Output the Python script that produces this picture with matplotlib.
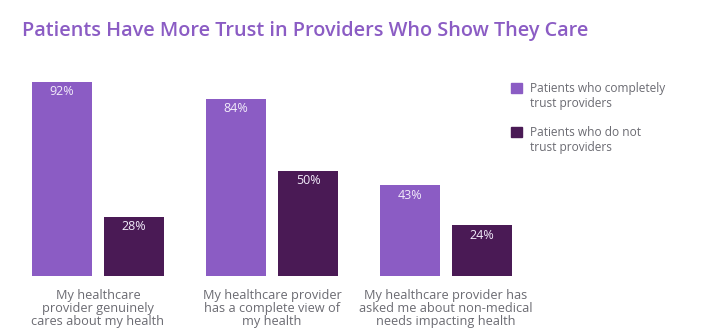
import matplotlib.pyplot as plt
import numpy as np

# données
categories = [
    "My healthcare\nprovider genuinely\ncares about my health",
    "My healthcare provider\nhas a complete view of\nmy health",
    "My healthcare provider has\nasked me about non-medical\nneeds impacting health",
]
trust = [92, 84, 43]
no_trust = [28, 50, 24]
series_names = ["Patients who completely\ntrust providers", "Patients who do not\ntrust providers"]

light = "#8B5CC4"
dark = "#4A1A55"
grey = "#6b6b72"

W, H = 727, 336
fig = plt.figure(figsize=(W / 100, H / 100), dpi=100)

# axes placé en pixels : bas à y=276, haut à y=60
ax = fig.add_axes([20 / W, (H - 276) / H, 500 / W, 216 / H])
x = np.arange(len(categories))
bw = 0.345
off = 0.208
b1 = ax.bar(x - off, trust, bw, color=light)
b2 = ax.bar(x + off, no_trust, bw, color=dark)
ax.set_xlim(-0.448, 2.425)
ax.set_ylim(0, 216 / 2.11)
ax.axis("off")

for bars, vals in [(b1, trust), (b2, no_trust)]:
    for b, v in zip(bars, vals):
        ax.annotate(f"{v}%", (b.get_x() + b.get_width() / 2, v),
                    xytext=(0, -2.5), textcoords="offset points",
                    ha="center", va="top", color="#f2ecfa", fontsize=9,
                    family="Open Sans")

for xi, lab in zip(x, categories):
    ax.annotate(lab, (xi, 0), xytext=(0, -9), textcoords="offset points",
                ha="center", va="top", color=grey, fontsize=9.2,
                family="Open Sans", linespacing=1.05)

# titre
fig.text(22 / W, 1 - 31 / H, "Patients Have More Trust in Providers Who Show They Care",
         color=light, fontsize=14.35, fontweight="semibold", family="Open Sans",
         va="center", ha="left")

# légende faite à la main
for i, (name, c) in enumerate(zip(series_names, [light, dark])):
    ytop = 83 + i * 44
    fig.patches.append(plt.Rectangle((511 / W, 1 - (ytop + 10) / H), 11 / W, 10 / H,
                                     color=c, transform=fig.transFigure))
    fig.text(530 / W, 1 - (ytop - 1) / H, name, color=grey, fontsize=8.6,
             family="Open Sans", va="top", ha="left", linespacing=1.25)

fig.savefig("out.png", dpi=100)
